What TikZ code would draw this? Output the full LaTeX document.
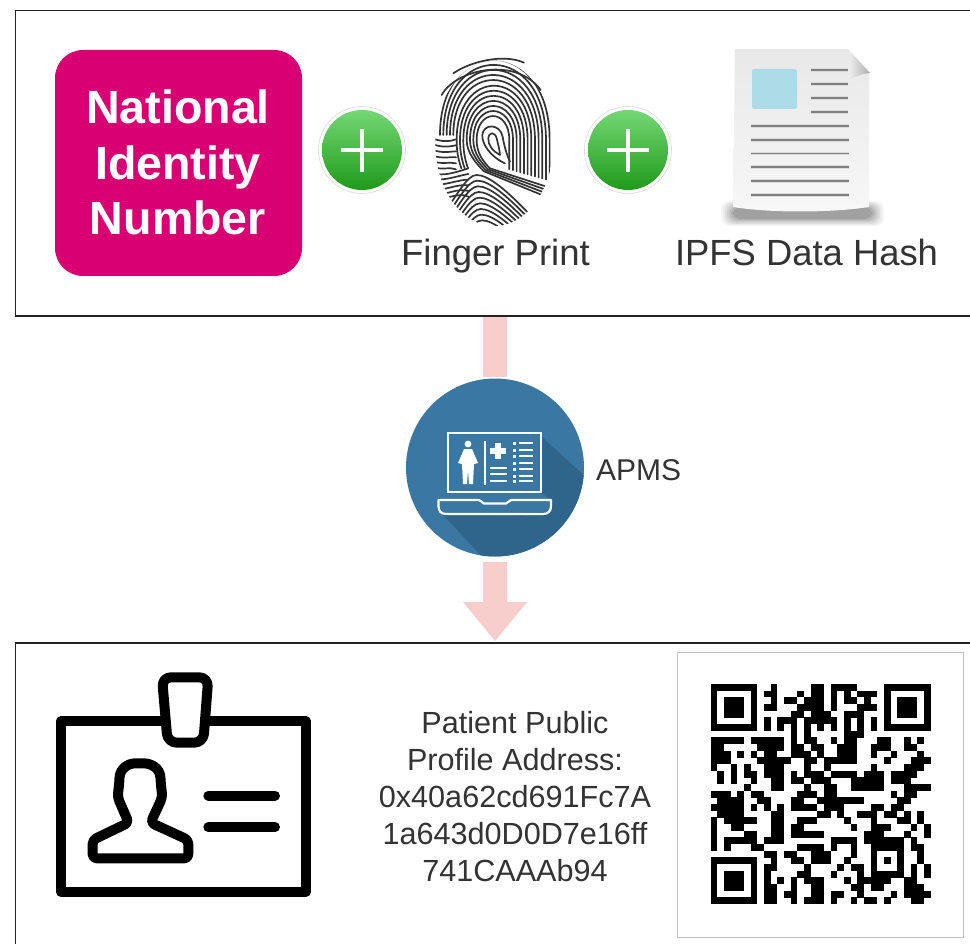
\documentclass[tikz,border=0pt]{standalone}
\usepackage{fontspec}
\setmainfont{Liberation Sans}
\usetikzlibrary{shapes.geometric}
\definecolor{frameline}{HTML}{222222}
\definecolor{magentabox}{HTML}{D80073}
\definecolor{arrowpink}{HTML}{F8CECC}
\definecolor{apmsblue}{HTML}{3A78A3}
\definecolor{apmsdark}{HTML}{30658B}
\definecolor{labelgrey}{HTML}{333333}
\definecolor{greentop}{HTML}{74D874}
\definecolor{greenbot}{HTML}{1F9A1A}
\definecolor{docblue}{HTML}{ADDCE9}
\newcount\qrcol
\def\qrscan#1{\ifx#1;\else\ifx#11\fill[black] (\the\qrcol*6.67+710.5,\qrrowno*6.67+684) rectangle ++(6.82,6.82);\fi\advance\qrcol by 1 \expandafter\qrscan\fi}
\tikzset{
  frame/.style={draw=frameline,line width=1.6pt},
  plusdisc/.style={circle,minimum size=80pt,inner sep=0pt,top color=greentop,bottom color=greenbot,draw=none},
  plusring/.style={draw=black!15,line width=0.6pt,fill=white},
  plusbar/.style={white,line width=4.4pt},
  lbl/.style={text=labelgrey,inner sep=0pt,align=center},
  ridge/.style={black!80,line width=1.7pt,line cap=round},
  docline/.style={black!50,line width=1.5pt},
  dochalo/.style={black!14,line width=3.2pt},
  iconline/.style={white,line width=1.3pt},
  badge/.style={black,line width=10pt,line join=round}
}
\begin{document}
\begin{tikzpicture}[x=1pt,y=-1pt]
\useasboundingbox (0,0) rectangle (970,944);
\fill[white] (0,0) rectangle (970,944);
% frames
\draw[frame] (980,10.5) -- (15.5,10.5) -- (15.5,316) -- (980,316);
\draw[frame] (980,643) -- (15.5,643) -- (15.5,960);
% arrows
\fill[arrowpink] (483,317) rectangle (507,377);
\fill[arrowpink] (483,562) -- (507,562) -- (507,602) -- (527,602) -- (495,641) -- (463,602) -- (483,602) -- cycle;
% magenta box
\node[fill=magentabox,rounded corners=28pt,minimum width=247pt,minimum height=226pt,inner sep=0pt] (nid) at (178.5,163) {};
\node[text=white,font=\fontsize{46.6}{55.5}\selectfont\bfseries,align=center,inner sep=0pt] (nidtext) at (178,162.5) {National\\Identity\\Number};
% plus 1
\draw[plusring] (362,150) circle (43.5);
\node[plusdisc] (plusa) at (362,150) {};
\draw[plusbar] (341,150) -- (383,150) (362,129) -- (362,172);
% plus 2
\draw[plusring] (628,150) circle (43.5);
\node[plusdisc] (plusb) at (628,150) {};
\draw[plusbar] (607,150) -- (649,150) (628,129) -- (628,172);
% fingerprint (reference crop coordinates, 3 units per pixel)
\begin{scope}[shift={(310,40)},x=0.3333pt,y=-0.3333pt]
\draw[ridge] (430,100) .. controls (480,65) and (580,40) .. (642,68);
\draw[ridge] (395,165) .. controls (440,85) and (620,50) .. (692,150);
\begin{scope}
\clip (553,310) ellipse (177 and 248);
% teardrop core
\draw[ridge] (570,345) .. controls (550,335) and (533,315) .. (535,295) .. controls (537,275) and (555,275) .. (560,295) .. controls (565,315) and (570,335) .. (570,345);
\draw[ridge] (585,370) .. controls (540,350) and (515,310) .. (517,285) .. controls (520,250) and (570,250) .. (578,290) .. controls (582,315) and (590,345) .. (600,365);
\foreach \k in {0,...,11}{
  \pgfmathsetmacro{\t}{228-15.2*\k}
  \pgfmathsetmacro{\xl}{500-10*\k}
  \pgfmathsetmacro{\xr}{598+11*\k}
  \pgfmathsetmacro{\hh}{1.33*(300-\t)}
  \pgfmathsetmacro{\br}{380+0.28*(\xr-555)-4}
  \ifnum\k<4
    \pgfmathsetmacro{\pa}{540-6*\k}
    \pgfmathsetmacro{\pb}{385+3*\k}
    \pgfmathsetmacro{\pc}{725-4*\k}
    \pgfmathsetmacro{\pd}{445+9*\k}
    \draw[ridge] (\xr,\br) .. controls (\xr,\br-25) and (\xr,\br-50) .. (\xr,300) .. controls (\xr,300-\hh) and (\xl,300-\hh) .. (\xl,300) .. controls (\xl,340) and (\pa-20,\pb-20) .. (\pa,\pb) -- (\pc,\pd);
  \else
    \ifnum\k<7
      \draw[ridge] (\xr,\br) -- (\xr,300) .. controls (\xr,300-\hh) and (\xl,300-\hh) .. (\xl,300) .. controls (\xl,325) and (\xl+2,350) .. (\xl+14,385);
    \else
      \draw[ridge] (\xr,\br) -- (\xr,300) .. controls (\xr,300-\hh) and (\xl,300-\hh) .. (\xl,285);
    \fi
  \fi
}
% left whorl strokes
\foreach \m in {0,...,5}{
  \draw[ridge] (370,296+\m*17) .. controls (395,306+\m*17) and (420,305+\m*15) .. (438,298+\m*18);
}
\foreach \m in {0,...,5}{
  \draw[ridge] (370,400+\m*17) .. controls (400,410+\m*14) and (445,395+\m*12) .. (475,385+\m*17);
}
% lower arches
\foreach \j in {0,...,9}{
  \pgfmathsetmacro{\pky}{405+17*\j}
  \pgfmathsetmacro{\pkx}{500+2*\j}
  \draw[ridge] (\pkx-100,\pky+115) .. controls (\pkx-60,\pky+65) and (\pkx-30,\pky) .. (\pkx,\pky) .. controls (\pkx+35,\pky) and (\pkx+90,\pky+45) .. (\pkx+165,\pky+125);
}
\end{scope}
\end{scope}
\node[lbl,font=\fontsize{36.5}{40}\selectfont,anchor=base] (fp) at (495.5,266) {Finger Print};
% document
\foreach \o/\e in {0.035/12,0.045/10,0.055/8,0.06/6,0.07/4,0.08/2,0.09/0}{
  \fill[black,opacity=\o,rounded corners=8pt] (733-\e,207-\e*0.5) rectangle (872+\e,219+\e*0.6);
}
\shade[top color=black!9,bottom color=black!3] (735,49) -- (848,49) -- (869,73) -- (869,207) .. controls (830,213) and (770,213) .. (733,207) -- cycle;
\shade[left color=black!6,right color=black!32] (848,49) .. controls (851,60) and (851,72) .. (848,82) .. controls (854,76) and (862,74) .. (870,73) -- cycle;
\fill[docblue,rounded corners=2pt] (752,69) rectangle (797,109);
\foreach \y in {70,84,98,112}{\draw[dochalo] (811,\y) -- (848,\y);\draw[docline] (811,\y) -- (848,\y);}
\foreach \y in {126,140,153.5,167,181,195}{\draw[dochalo] (751,\y) -- (849,\y);\draw[docline] (751,\y) -- (849,\y);}
\node[lbl,font=\fontsize{36.4}{40}\selectfont,anchor=base] (ipfs) at (806.5,266) {IPFS Data Hash};
% APMS disc
\node[circle,fill=apmsblue,minimum size=178pt,inner sep=0pt] (apms) at (495,467.5) {};
\begin{scope}
\clip (495,467.5) circle (89);
\fill[apmsdark] (541,436) -- (600,490) -- (600,600) -- (490,565) -- (442,514) -- (552,512) -- (552,500) -- (541,493) -- cycle;
\end{scope}
\draw[white,line width=2.3pt] (448,433) rectangle (541,492);
\draw[white,line width=2.2pt,line join=round] (438.5,500) -- (479,500) -- (484,503.5) -- (506,503.5) -- (511,500) -- (551,500) -- (551,506) .. controls (551,511) and (548,514) .. (543,514) -- (446,514) .. controls (441,514) and (438.5,511) .. (438.5,506) -- cycle;
\draw[white,line width=1.1pt] (485,441) -- (485,485);
\fill[white] (468,444) circle (3.4);
\fill[white] (464,449) -- (472,449) -- (478,463) -- (474,464) -- (473,484) -- (469,484) -- (468,470) -- (467,484) -- (463,484) -- (462,464) -- (458,463) -- cycle;
\draw[white,line width=5.5pt] (490,451) -- (506,451) (498,443) -- (498,459);
\foreach \y in {443,450,456,463,469,476,481}{\draw[iconline] (519,\y) -- (533,\y);}
\foreach \y in {443,450,456,463,469,476,481}{\fill[white] (513,\y-1.5) rectangle (516,\y+1.5);}
\foreach \y in {468,474,481}{\draw[iconline] (490,\y) -- (507,\y);}
\node[lbl,font=\fontsize{30}{34}\selectfont,anchor=west] (apmslabel) at (596,470) {APMS};
% badge icon
\begin{scope}[shift={(40,660)},x=0.3333pt,y=-0.3333pt]
\draw[badge] (365,184) -- (62,184) -- (62,695) -- (798,695) -- (798,184) -- (505,184);
\draw[badge,rounded corners=9pt,fill=white] (366,52) -- (505,52) -- (490,248) -- (383,248) -- cycle;
\draw[badge,rounded corners=4pt] (158,595) -- (158,540) -- (266,488) -- (233,412) -- (238,365) .. controls (240,325) and (265,310) .. (298,310) .. controls (335,310) and (360,325) .. (362,365) -- (367,412) -- (332,488) -- (445,540) -- (445,595) -- cycle;
\draw[badge,line cap=round] (505,407) -- (705,407);
\draw[badge,line cap=round] (505,502) -- (705,502);
\end{scope}
% patient text
\node[lbl,font=\fontsize{30.6}{37.2}\selectfont] (addr) at (515,796.5) {Patient Public\\Profile Address:\\0x40a62cd691Fc7A\\1a643d0D0D7e16ff\\741CAAAb94};
% QR frame
\node[draw=black!25,line width=1pt,minimum width=286pt,minimum height=285pt,inner sep=0pt] (qrframe) at (820.5,794.5) {};
\foreach \bits [count=\r from 0] in {
111111100100000110111100001111111,
100000101100010110101011101000001,
101110100101101110101101001011101,
101110101100011110100011101011101,
101110100000110111001110001011101,
100000101011101111101010101000001,
111111101010101010101010101111111,
000000000000101000001110000000000,
111110111110101100101100011001010,
110000011110110110011100111001100,
111010101100111010011100100100010,
111000011111001101111100001000111,
100101001110001001000000100001110,
010101101110101110111101110111100,
010100100110110111000111110111000,
000001000110001001100111110001111,
111010110000011101100000000101100,
011110011000110011111110000011000,
111110101010111101110000110110000,
011110000110000011010011101101010,
101111100110011100001000100011010,
100110000110110000000100111000101,
100001100110111110000001110001001,
101111101110000000111101111110100,
101000110000011110100100111110110,
000000001101100111000100100010010,
111111100100110111001000101010010,
100000101100001000010110100010101,
101110101000011000100010111110101,
101110101010101110001011111001100,
101110101100100110000110110001110,
100000101101100110110010000101111,
111111101100101110100101101000110}{
  \edef\qrrowno{\r}\qrcol=0 \expandafter\qrscan\bits;
}
\end{tikzpicture}
\end{document}
